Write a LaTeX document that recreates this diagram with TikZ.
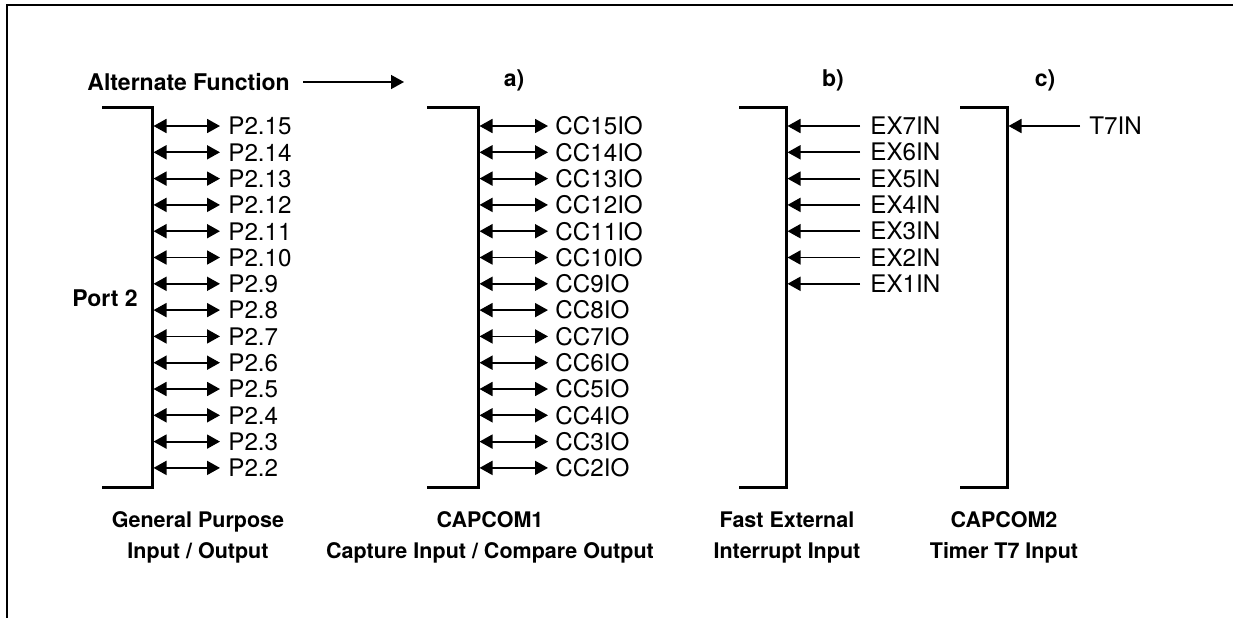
\documentclass[tikz,border=0pt]{standalone}
\usepackage{fontspec}
\setmainfont{TeX Gyre Heros}
\usetikzlibrary{arrows.meta}

\tikzset{
  pinlab/.style={font=\fontsize{12.1}{13}\selectfont, inner sep=0pt, anchor=west},
  head/.style={font=\bfseries\fontsize{11.5}{13}\selectfont, inner sep=0pt},
  caption/.style={font=\bfseries\fontsize{10.75}{15.5}\selectfont, inner sep=0pt, align=center},
  bracket/.style={line width=1.5pt},
  inarrow/.style={line width=0.9pt, -{Triangle[length=6.5pt,width=7pt]}},
  ioarrow/.style={line width=0.9pt, {Triangle[length=6.5pt,width=7pt]}-{Triangle[length=6.5pt,width=7pt]}},
}

\begin{document}
\begin{tikzpicture}[x=0.5pt,y=-0.5pt]
  \useasboundingbox (0,0) rectangle (1233,617);

  % frame
  \draw[line width=1.25pt] (7,618) -- (7,5) -- (1240,5);

  % heading
  \node[head, anchor=west] (alt) at (87,82) {Alternate Function};
  \coordinate (altend) at (404,82);
  \draw[inarrow, line width=0.75pt] (alt.east) ++(13,0) coordinate (altbeg) -- (altend);
  \node[head] (fa) at (514,80) {a)};
  \node[head] (fb) at (833,80) {b)};
  \node[head] (fc) at (1045,80) {c)};

  % brackets
  \draw[bracket] (102,107) -- (152,107) -- (152,487) -- (102,487);
  \draw[bracket] (427,107) -- (478,107) -- (478,487) -- (427,487);
  \draw[bracket] (739,107) -- (786,107) -- (786,487) -- (739,487);
  \draw[bracket] (960,107) -- (1007,107) -- (1007,487) -- (960,487);

  \node[head, anchor=east] (port) at (138,298) {Port 2};

  % port 2 and capcom1 pins
  \foreach \n [count=\k from 0] in {15,14,...,2} {
    \pgfmathsetmacro{\yy}{126+26.3*\k}
    \coordinate (pa\n) at (153.5,\yy);
    \coordinate (pb\n) at (220,\yy);
    \node[pinlab] (pl\n) at (228,\yy) {P2.\n};
    \draw[ioarrow] (pa\n) -- (pb\n);
    \coordinate (ca\n) at (479.5,\yy);
    \coordinate (cb\n) at (548,\yy);
    \node[pinlab] (cl\n) at (555,\yy) {CC\n IO};
    \draw[ioarrow] (ca\n) -- (cb\n);
  }

  % fast external interrupts
  \foreach \n [count=\k from 0] in {7,6,...,1} {
    \pgfmathsetmacro{\yy}{126+26.3*\k}
    \coordinate (ea\n) at (787.5,\yy);
    \coordinate (eb\n) at (860,\yy);
    \node[pinlab] (el\n) at (870,\yy) {EX\n IN};
    \draw[inarrow] (eb\n) -- (ea\n);
  }

  % timer T7
  \coordinate (ta) at (1008.5,126);
  \coordinate (tb) at (1080,126);
  \node[pinlab] (tl) at (1089,126) {T7IN};
  \draw[inarrow] (tb) -- (ta);

  % captions
  \node[caption] (cgp) at (198,537) {General Purpose\\Input / Output};
  \node[caption] (ccc) at (490,537) {CAPCOM1\\Capture Input / Compare Output};
  \node[caption] (cex) at (787,537) {Fast External\\Interrupt Input};
  \node[caption] (ct7) at (1004,537) {CAPCOM2\\Timer T7 Input};
\end{tikzpicture}
\end{document}
